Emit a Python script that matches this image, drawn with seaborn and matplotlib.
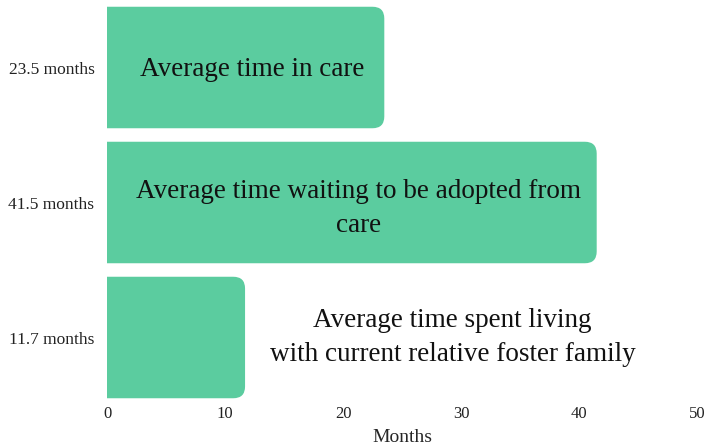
import matplotlib
matplotlib.use('Agg')

import matplotlib.pyplot as plt
import seaborn as sns
import pandas as pd
from matplotlib.patches import FancyBboxPatch

categories = ["23.5 months", "41.5 months", "11.7 months"]
months = [23.5, 41.5, 11.7]
descriptions = [
    "Average time in care",
    "Average time waiting to be adopted from\ncare",
    "Average time spent living\nwith current relative foster family",
]
xticks = [0, 10, 20, 30, 40, 50]

# where each description sits (data units)
label_x = [12.3, 21.3, 29.3]
label_dy = [0.015, 0.045, 0.0]

df = pd.DataFrame({"label": categories, "months": months})

sns.set_theme(style="white")
plt.rcParams['font.family'] = ['Liberation Serif', 'DejaVu Serif']

fig = plt.figure(figsize=(7.08, 4.47), dpi=100)
ax = fig.add_axes([107 / 708, 42 / 447, 590 / 708, 405 / 447])

bar_color = "#5bcc9f"
sns.barplot(data=df, x="months", y="label", orient="h", color=bar_color,
            width=0.9, saturation=1, ax=ax)

# swap the plain bars for ones with rounded right-hand corners
r = 1.0
for p in list(ax.patches):
    x0, y0 = p.get_x(), p.get_y()
    w, h = p.get_width(), p.get_height()
    p.remove()
    box = FancyBboxPatch((x0 - r * 2, y0), w + r * 2, h,
                         boxstyle=f"round,pad=0,rounding_size={r}",
                         mutation_aspect=0.0875,
                         facecolor=bar_color, edgecolor="none")
    ax.add_patch(box)

for i, txt in enumerate(descriptions):
    ax.text(label_x[i], i + label_dy[i], txt, ha="center", va="center",
            fontsize=19.5, color="#111111", linespacing=1.5)

ax.set_xlim(0, 50)
ax.set_ylim(2.5, -0.5)
ax.set_xticks(xticks)
ax.set_xlabel("Months", fontsize=14, labelpad=5)
ax.set_ylabel("")
ax.tick_params(axis="x", length=0, pad=1, labelsize=12, labelcolor="#222222")
ax.tick_params(axis="y", length=0, pad=9, labelsize=12.5, labelcolor="#222222")
for s in ax.spines.values():
    s.set_visible(False)
ax.grid(False)

fig.savefig("out.png", dpi=100)
plt.close(fig)
